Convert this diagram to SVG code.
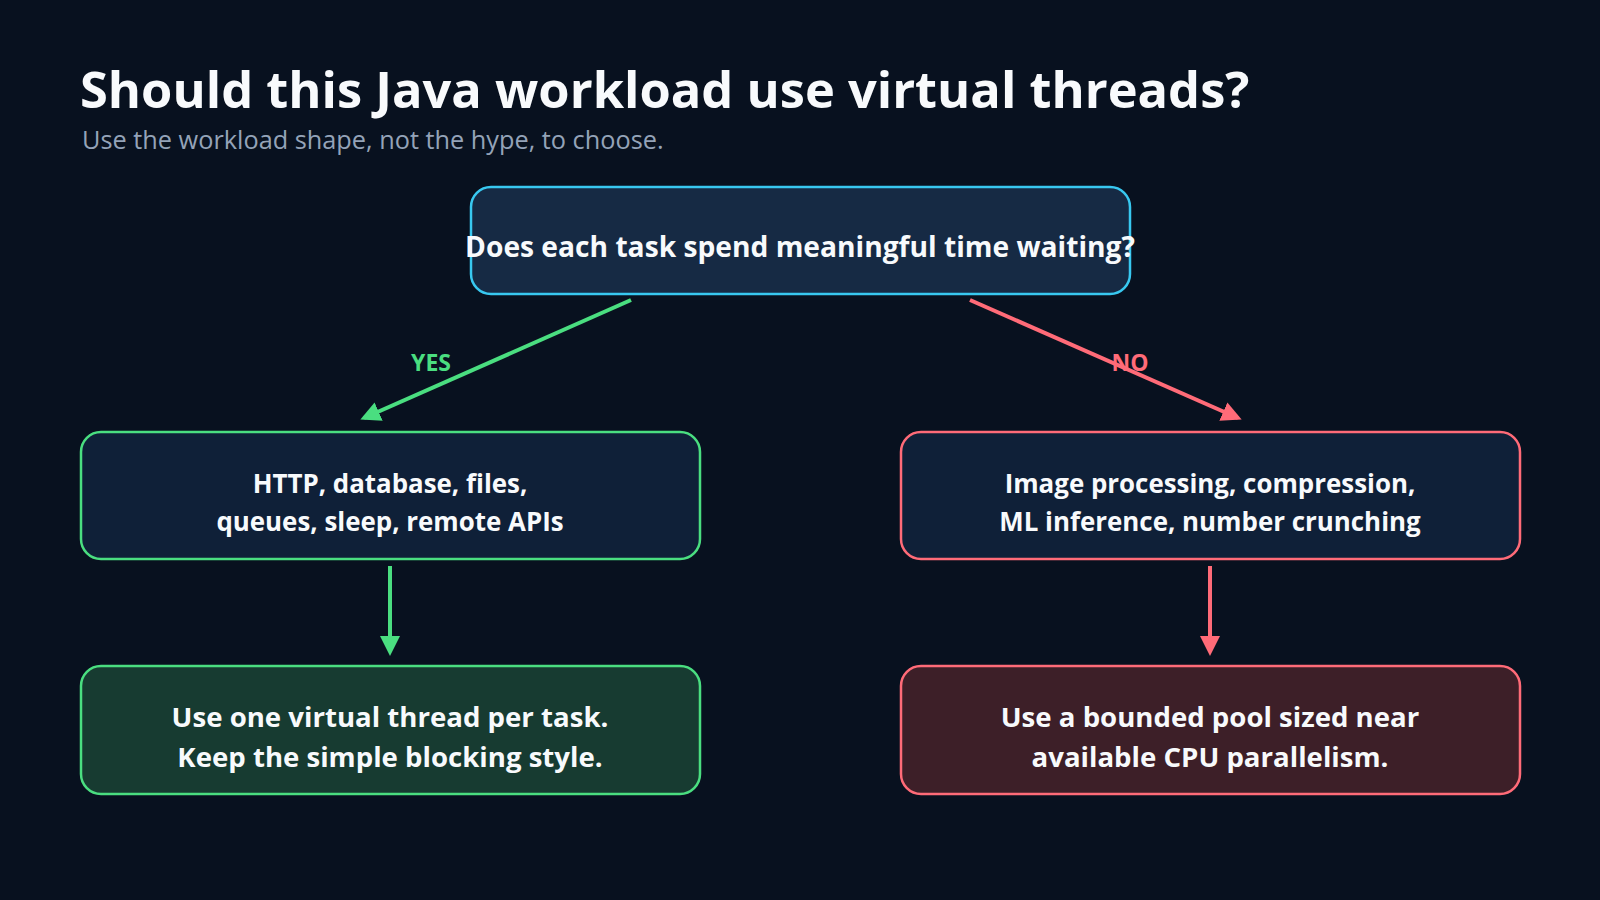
<svg xmlns="http://www.w3.org/2000/svg" width="1600" height="900" viewBox="0 0 1600 900">
<defs>
<style>
.t{font-family:"Open Sans","Noto Sans","Liberation Sans",sans-serif;font-weight:700;fill:#f8fafc;text-anchor:middle}
.box{stroke-width:2.5}
</style>
<marker id="ag" viewBox="0 0 10 10" refX="8" refY="5" markerWidth="5" markerHeight="5" orient="auto"><path d="M0,0 L10,5 L0,10 z" fill="#4ade80"/></marker>
<marker id="ar" viewBox="0 0 10 10" refX="8" refY="5" markerWidth="5" markerHeight="5" orient="auto"><path d="M0,0 L10,5 L0,10 z" fill="#ff6b78"/></marker>
</defs>
<rect width="1600" height="900" fill="#08111f"/>
<text x="80" y="108" font-family="Open Sans, Noto Sans, sans-serif" font-weight="700" font-size="50.6" fill="#f8fafc">Should this Java workload use virtual threads?</text>
<text x="82" y="149" font-family="Open Sans, Noto Sans, sans-serif" font-size="25.3" fill="#94a3b8">Use the workload shape, not the hype, to choose.</text>
<g id="connectors" stroke-width="4" fill="none">
<line x1="631" y1="300" x2="364" y2="418" stroke="#4ade80" marker-end="url(#ag)"/>
<line x1="970" y1="300" x2="1238" y2="418" stroke="#ff6b78" marker-end="url(#ar)"/>
<line x1="390" y1="566" x2="390" y2="652" stroke="#4ade80" marker-end="url(#ag)"/>
<line x1="1210" y1="566" x2="1210" y2="652" stroke="#ff6b78" marker-end="url(#ar)"/>
<text x="431" y="371" class="t" font-size="23" stroke="none" style="fill:#4ade80">YES</text>
<text x="1130" y="371" class="t" font-size="23" stroke="none" style="fill:#ff6b78">NO</text>
</g>
<g id="q">
<rect x="471" y="187" width="659" height="107" rx="20" fill="#162a44" stroke="#38c8f0" class="box"/>
<text x="800" y="257" class="t" font-size="28.2">Does each task spend meaningful time waiting?</text>
</g>
<g id="io">
<rect x="81" y="432" width="619" height="127" rx="20" fill="#0f2038" stroke="#4ade80" class="box"/>
<text x="390" y="493" class="t" font-size="25.9">HTTP, database, files,</text>
<text x="390" y="531" class="t" font-size="25.9">queues, sleep, remote APIs</text>
</g>
<g id="cpu">
<rect x="901" y="432" width="619" height="127" rx="20" fill="#0f2038" stroke="#ff6b78" class="box"/>
<text x="1210" y="493" class="t" font-size="25.9">Image processing, compression,</text>
<text x="1210" y="531" class="t" font-size="25.9">ML inference, number crunching</text>
</g>
<g id="vt">
<rect x="81" y="666" width="619" height="128" rx="20" fill="#173b31" stroke="#4ade80" class="box"/>
<text x="390" y="727" class="t" font-size="27.6">Use one virtual thread per task.</text>
<text x="390" y="767" class="t" font-size="27.6">Keep the simple blocking style.</text>
</g>
<g id="pool">
<rect x="901" y="666" width="619" height="128" rx="20" fill="#3d1f28" stroke="#ff6b78" class="box"/>
<text x="1210" y="727" class="t" font-size="27.6">Use a bounded pool sized near</text>
<text x="1210" y="767" class="t" font-size="27.6">available CPU parallelism.</text>
</g>
</svg>
